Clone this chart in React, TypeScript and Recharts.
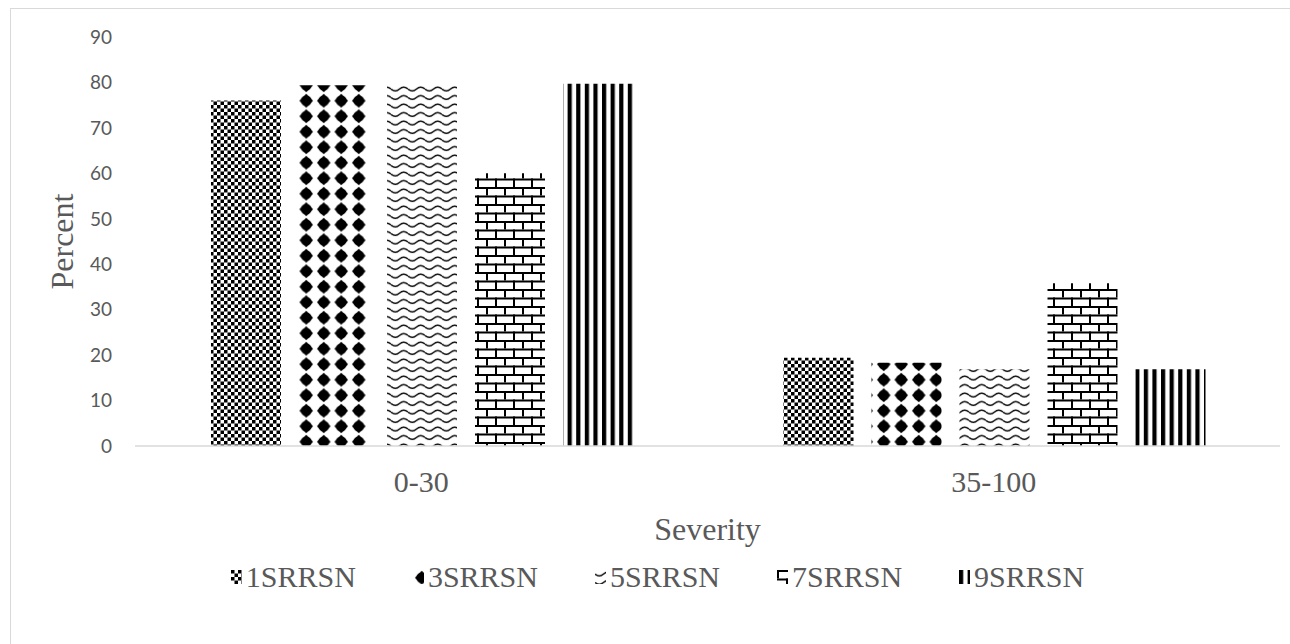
import React from 'react';
import { BarChart, Bar, XAxis, YAxis, Label } from 'recharts';

const categories = ['0-30', '35-100'];
const seriesNames = ['1SRRSN', '3SRRSN', '5SRRSN', '7SRRSN', '9SRRSN'];
const s1SRRSN = [76, 19.4];
const s3SRRSN = [79.4, 18.3];
const s5SRRSN = [79.4, 16.9];
const s7SRRSN = [60, 35.8];
const s9SRRSN = [79.7, 16.9];
const yTicks = [0, 10, 20, 30, 40, 50, 60, 70, 80, 90];

const seriesValues = [s1SRRSN, s3SRRSN, s5SRRSN, s7SRRSN, s9SRRSN];
const patternIds = ['pat-checker', 'pat-diamond', 'pat-wave', 'pat-brick', 'pat-stripe'];

const data = categories.map((c, i) => {
  const row: Record<string, any> = { category: c };
  seriesNames.forEach((n, j) => {
    row[n] = seriesValues[j][i];
  });
  return row;
});

const SERIF = '"Liberation Serif", "Times New Roman", serif';
const SANS = 'Lato, "Open Sans", sans-serif';

function PatternDefs() {
  return (
    <svg width={0} height={0} style={{ position: 'absolute', left: 0, top: 0 }}>
      <defs>
        <pattern id="pat-checker" patternUnits="userSpaceOnUse" width={7} height={7}>
          <rect x={0} y={0} width={7} height={7} fill="#fff" />
          <rect x={0} y={0} width={3.5} height={3.5} fill="#000" />
          <rect x={3.5} y={3.5} width={3.5} height={3.5} fill="#000" />
        </pattern>
        <pattern id="pat-diamond" patternUnits="userSpaceOnUse" width={17.5} height={15.5}>
          <rect x={0} y={0} width={17.5} height={15.5} fill="#fff" />
          <path d="M8.75 0.8 L15.6 7.75 L8.75 14.7 L1.9 7.75 Z" fill="#000" />
          <circle cx={8.75} cy={7.75} r={5.4} fill="#000" />
        </pattern>
        <pattern id="pat-wave" patternUnits="userSpaceOnUse" width={17} height={8.5}>
          <rect x={0} y={0} width={17} height={8.5} fill="#fff" />
          <path d="M0 4 Q 4.25 7.8 8.5 4 T 17 4" stroke="#000" strokeWidth={1.5} fill="none" />
        </pattern>
        <pattern id="pat-brick" patternUnits="userSpaceOnUse" width={18} height={17}>
          <rect x={0} y={0} width={18} height={17} fill="#fff" />
          <rect x={0} y={0} width={18} height={2} fill="#000" />
          <rect x={0} y={8.5} width={18} height={2} fill="#000" />
          <rect x={0} y={0} width={2} height={8.5} fill="#000" />
          <rect x={9} y={8.5} width={2} height={8.5} fill="#000" />
        </pattern>
        <pattern id="pat-stripe" patternUnits="userSpaceOnUse" width={8.6} height={10}>
          <rect x={0} y={0} width={8.6} height={10} fill="#fff" />
          <rect x={0} y={0} width={4.2} height={10} fill="#000" />
        </pattern>
      </defs>
    </svg>
  );
}

function LegendRow() {
  return (
    <div
      style={{
        position: 'absolute',
        left: 0,
        top: 559,
        width: 1290,
        display: 'flex',
        justifyContent: 'center',
        paddingLeft: 25,
        boxSizing: 'border-box',
        fontFamily: SERIF,
        fontSize: 30,
        lineHeight: '36px',
        color: '#595959',
      }}
    >
      {seriesNames.map((n, i) => (
        <div key={n} style={{ display: 'flex', alignItems: 'center', marginRight: i < seriesNames.length - 1 ? 57 : 0 }}>
          <svg width={11} height={14} style={{ marginRight: 4 }}>
            <rect x={0} y={0} width={11} height={14} fill={`url(#${patternIds[i]})`} />
          </svg>
          <span>{n}</span>
        </div>
      ))}
    </div>
  );
}

export default function App() {
  return (
    <div style={{ position: 'absolute', left: 0, top: 0, width: 1290, height: 644, overflow: 'hidden', background: '#fff' }}>
      <PatternDefs />
      <div
        style={{
          position: 'absolute',
          left: 10,
          top: 8,
          width: 1300,
          height: 700,
          border: '1px solid #d9d9d9',
          boxSizing: 'border-box',
        }}
      />
      <div style={{ position: 'absolute', left: 0, top: 0 }}>
        <BarChart
          width={1290}
          height={644}
          data={data}
          margin={{ top: 37, right: 10, bottom: 89, left: 0 }}
          barCategoryGap={76}
          barGap={18}
        >
          <XAxis
            dataKey="category"
            axisLine={{ stroke: '#d9d9d9', strokeWidth: 1.5 }}
            tickLine={false}
            tickSize={0}
            tickMargin={25}
            height={109}
            tick={{ fontFamily: SERIF, fontSize: 30, fill: '#595959' }}
          >
            <Label
              value="Severity"
              position="insideBottom"
              offset={15}
              style={{ fontFamily: SERIF, fontSize: 32, fill: '#595959' }}
            />
          </XAxis>
          <YAxis
            domain={[0, 90]}
            ticks={yTicks}
            interval={0}
            axisLine={false}
            tickLine={false}
            tickSize={0}
            tickMargin={23}
            width={135}
            tick={{ fontFamily: SANS, fontSize: 19, fill: '#595959' }}
          >
            <Label
              value="Percent"
              angle={-90}
              position="insideLeft"
              offset={62}
              style={{ fontFamily: SERIF, fontSize: 32, fill: '#595959', textAnchor: 'middle' }}
            />
          </YAxis>
          {seriesNames.map((n, i) => (
            <Bar key={n} dataKey={n} fill={`url(#${patternIds[i]})`} isAnimationActive={false} />
          ))}
        </BarChart>
      </div>
      <LegendRow />
    </div>
  );
}
